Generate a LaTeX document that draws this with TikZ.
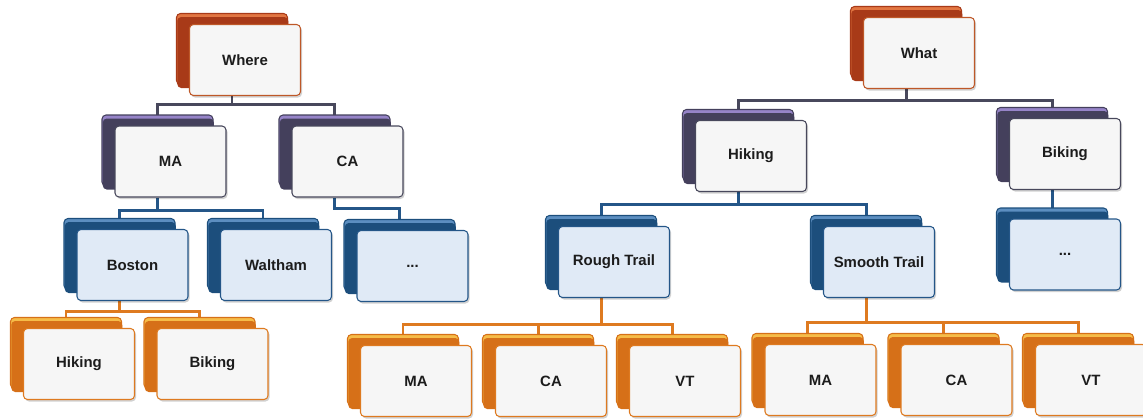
\documentclass[tikz,border=0pt]{standalone}
\usepackage{fontspec}
\setmainfont{Liberation Sans}
\usepackage{tikz}
\usetikzlibrary{shadows}

% colours of the four levels: back card dark, back card strip, front border, front fill
\definecolor{rootdk}{RGB}{168,58,24}
\definecolor{rootlt}{RGB}{226,118,66}
\definecolor{rootln}{RGB}{190,88,40}
\definecolor{catdk}{RGB}{68,64,92}
\definecolor{catlt}{RGB}{150,132,200}
\definecolor{catln}{RGB}{72,72,92}
\definecolor{subdk}{RGB}{28,78,124}
\definecolor{sublt}{RGB}{92,142,192}
\definecolor{subln}{RGB}{36,86,136}
\definecolor{leafdk}{RGB}{214,112,24}
\definecolor{leaflt}{RGB}{246,188,72}
\definecolor{leafln}{RGB}{222,122,32}
\definecolor{paper}{RGB}{246,246,246}
\definecolor{icy}{RGB}{224,234,246}
\definecolor{ink}{RGB}{28,28,28}

\newcommand\cardfont{\fontsize{8.5}{10}\selectfont\bfseries}

\pgfdeclarelayer{bg}
\pgfsetlayers{bg,main}

\tikzset{
  card/.style n args={4}{rectangle, rounded corners=0.08cm, minimum width=2.22cm,
    minimum height=1.42cm, inner sep=0pt, draw=#3, line width=0.6pt, fill=#4,
    text=ink, font=\cardfont,
    general shadow={shadow xshift=-0.26cm, shadow yshift=0.22cm, fill=#2, draw=#1, line width=0.6pt},
    general shadow={shadow xshift=-0.245cm, shadow yshift=0.15cm, fill=#1},
    general shadow={shadow xshift=0.03cm, shadow yshift=-0.04cm, fill=black, opacity=0.18}},
  topbox/.style={card={rootdk}{rootlt}{rootln}{paper}},
  catbox/.style={card={catdk}{catlt}{catln}{paper}},
  subbox/.style={card={subdk}{sublt}{subln}{icy}},
  leafbox/.style={card={leafdk}{leaflt}{leafln}{paper}},
  link/.style={line width=1.7pt, draw=#1}
}

\begin{document}
\begin{tikzpicture} [scale = 1]
\useasboundingbox (0, 0) rectangle (22.86, 8.36);

% where tree
\node[topbox] (where) at (4.90, 7.16){Where};
\node[catbox] (maA) at (3.41, 5.13){MA};
\node[catbox] (caA) at (6.95, 5.13){CA};
\node[subbox] (boston) at (2.65, 3.06){Boston};
\node[subbox] (waltham) at (5.52, 3.06){Waltham};
\node[subbox] (moreA) at (8.25, 3.04){...};
\node[leafbox] (hikeA) at (1.58, 1.08){Hiking};
\node[leafbox] (bikeA) at (4.25, 1.08){Biking};

% what tree
\node[topbox] (what) at (18.38, 7.30){What};
\node[catbox] (hike) at (15.02, 5.24){Hiking};
\node[catbox] (bike) at (21.30, 5.28){Biking};
\node[subbox] (rough) at (12.28, 3.12){Rough Trail};
\node[subbox] (smooth) at (17.58, 3.12){Smooth Trail};
\node[subbox] (moreB) at (21.30, 3.27){...};
\node[leafbox] (maR) at (8.32, 0.74){MA};
\node[leafbox] (caR) at (11.02, 0.74){CA};
\node[leafbox] (vtR) at (13.70, 0.74){VT};
\node[leafbox] (maS) at (16.41, 0.76){MA};
\node[leafbox] (caS) at (19.13, 0.76){CA};
\node[leafbox] (vtS) at (21.82, 0.76){VT};

% elbow links, run behind the cards
\begin{pgfonlayer}{bg}
\draw[link=catln] ([xshift=-0.26cm]where.south) -- ++(0, -0.16) -| ([xshift=-0.26cm]maA.north);
\draw[link=catln] ([xshift=-0.26cm]where.south) -- ++(0, -0.16) -| ([xshift=-0.26cm]caA.north);
\draw[link=subln] ([xshift=-0.26cm]maA.south) -- ++(0, -0.26) -| ([xshift=-0.26cm]boston.north);
\draw[link=subln] ([xshift=-0.26cm]maA.south) -- ++(0, -0.26) -| ([xshift=-0.26cm]waltham.north);
\draw[link=subln] ([xshift=-0.26cm]caA.south) -- ++(0, -0.22) -| ([xshift=-0.26cm]moreA.north);
\draw[link=leafln] ([xshift=-0.26cm]boston.south) -- ++(0, -0.20) -| ([xshift=-0.26cm]hikeA.north);
\draw[link=leafln] ([xshift=-0.26cm]boston.south) -- ++(0, -0.20) -| ([xshift=-0.26cm]bikeA.north);

\draw[link=catln] ([xshift=-0.26cm]what.south) -- ++(0, -0.22) -| ([xshift=-0.26cm]hike.north);
\draw[link=catln] ([xshift=-0.26cm]what.south) -- ++(0, -0.22) -| ([xshift=-0.26cm]bike.north);
\draw[link=subln] ([xshift=-0.26cm]hike.south) -- ++(0, -0.24) -| ([xshift=-0.26cm]rough.north);
\draw[link=subln] ([xshift=-0.26cm]hike.south) -- ++(0, -0.24) -| ([xshift=-0.26cm]smooth.north);
\draw[link=subln] ([xshift=-0.26cm]bike.south) -- ([xshift=-0.26cm]moreB.north);
\draw[link=leafln] ([xshift=-0.26cm]rough.south) -- ++(0, -0.52) -| ([xshift=-0.26cm]maR.north);
\draw[link=leafln] ([xshift=-0.26cm]rough.south) -- ++(0, -0.52) -| ([xshift=-0.26cm]caR.north);
\draw[link=leafln] ([xshift=-0.26cm]rough.south) -- ++(0, -0.52) -| ([xshift=-0.26cm]vtR.north);
\draw[link=leafln] ([xshift=-0.26cm]smooth.south) -- ++(0, -0.48) -| ([xshift=-0.26cm]maS.north);
\draw[link=leafln] ([xshift=-0.26cm]smooth.south) -- ++(0, -0.48) -| ([xshift=-0.26cm]caS.north);
\draw[link=leafln] ([xshift=-0.26cm]smooth.south) -- ++(0, -0.48) -| ([xshift=-0.26cm]vtS.north);
\end{pgfonlayer}
\end{tikzpicture}
\end{document}
